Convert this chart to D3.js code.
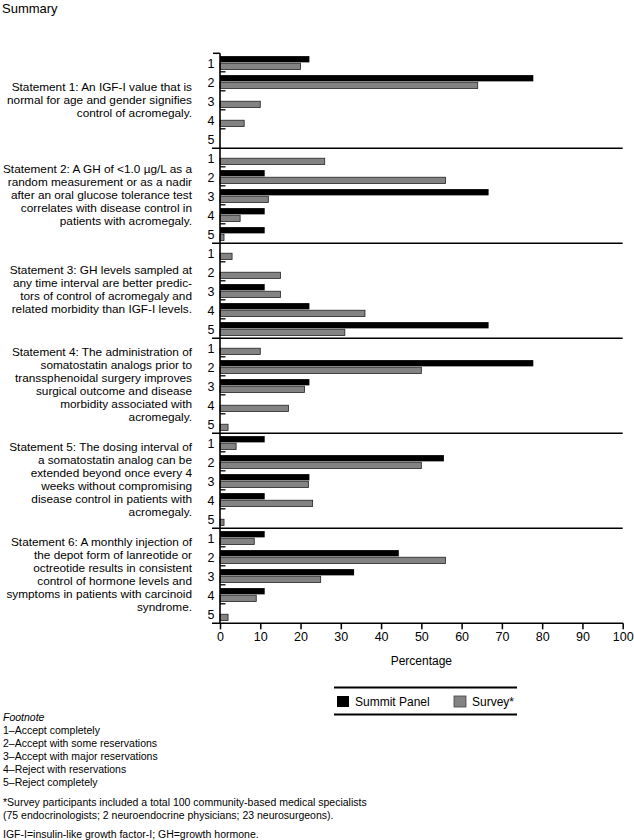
<!DOCTYPE html>
<html>
<head>
<meta charset="utf-8">
<script src="https://cdn.jsdelivr.net/npm/d3@7"></script>
<style>
  body { margin: 0; background: #fff; }
  text { font-family: "Liberation Sans", Arial, sans-serif; fill: #000; }
</style>
</head>
<body>
<div id="chart"></div>
<script>
// answer categories (1 = accept completely ... 5 = reject completely)
const categories = ['1', '2', '3', '4', '5'];

// percentages, one row per statement
const summitPanel = [
    [22.2, 77.8, 0, 0, 0],
    [0, 11.1, 66.7, 11.1, 11.1],
    [0, 0, 11.1, 22.2, 66.7],
    [0, 77.8, 22.2, 0, 0],
    [11.1, 55.6, 22.2, 11.1, 0],
    [11.1, 44.4, 33.3, 11.1, 0]
];

const survey = [
    [20, 64, 10, 6, 0],
    [26, 56, 12, 5, 1],
    [3, 15, 15, 36, 31],
    [10, 50, 21, 17, 2],
    [4, 50, 22, 23, 1],
    [8.5, 56, 25, 9, 2]
];

const statementLines = [
    ['Statement 1: An IGF-I value that is', 'normal for age and gender signifies', 'control of acromegaly.'],
    ['Statement 2: A GH of <1.0 \u00b5g/L as a', 'random measurement or as a nadir', 'after an oral glucose tolerance test', 'correlates with disease control in', 'patients with acromegaly.'],
    ['Statement 3: GH levels sampled at', 'any time interval are better predic-', 'tors of control of acromegaly and', 'related morbidity than IGF-I levels.'],
    ['Statement 4: The administration of', 'somatostatin analogs prior to', 'transsphenoidal surgery improves', 'surgical outcome and disease', 'morbidity associated with', 'acromegaly.'],
    ['Statement 5: The dosing interval of', 'a somatostatin analog can be', 'extended beyond once every 4', 'weeks without compromising', 'disease control in patients with', 'acromegaly.'],
    ['Statement 6: A monthly injection of', 'the depot form of lanreotide or', 'octreotide results in consistent', 'control of hormone levels and', 'symptoms in patients with carcinoid', 'syndrome.']
];

const xTicks = [0, 10, 20, 30, 40, 50, 60, 70, 80, 90, 100];

const seriesNames = ['Summit Panel', 'Survey*'];

const footnoteLines = [
    '1\u2013Accept completely',
    '2\u2013Accept with some reservations',
    '3\u2013Accept with major reservations',
    '4\u2013Reject with reservations',
    '5\u2013Reject completely'
];

const noteLines = [
    '*Survey participants included a total 100 community-based medical specialists',
    '(75 endocrinologists; 2 neuroendocrine physicians; 23 neurosurgeons).'
];

const abbrevLine = 'IGF-I=insulin-like growth factor-I; GH=growth hormone.';

const colors = { 'Summit Panel': '#000', 'Survey*': '#838383' };

const width = 634, height = 840;
const plotLeft = 220, plotRight = 622.7, plotTop = 53.3, plotBottom = 623.3;

const svg = d3.select('#chart').append('svg')
    .attr('width', width)
    .attr('height', height);

svg.append('text')
    .attr('x', 2).attr('y', 13)
    .style('font-size', '13px')
    .text('Summary');

const xScale = d3.scaleLinear().domain([0, 100]).range([plotLeft, plotRight]);

const panelScale = d3.scaleBand()
    .domain(d3.range(statementLines.length))
    .range([plotTop, plotBottom]);

const catScale = d3.scaleBand()
    .domain(categories)
    .range([0, panelScale.bandwidth()]);

const seriesScale = d3.scaleBand()
    .domain(seriesNames)
    .range([2.8, 16.2])
    .paddingInner(0.12);

// panels
const panels = svg.selectAll('.panel')
    .data(statementLines.map((lines, i) => ({ lines, i })))
    .enter().append('g')
        .attr('class', 'panel')
        .attr('transform', d => `translate(0,${panelScale(d.i)})`);

panels.each(function (d) {
    const g = d3.select(this);
    const lh = 13;
    const mid = panelScale.bandwidth() / 2 - 1.5;
    const start = mid - (d.lines.length - 1) * lh / 2;

    // statement text, right aligned
    g.selectAll('.stmt')
        .data(d.lines).enter()
        .append('text')
            .attr('class', 'stmt')
            .attr('x', 192)
            .attr('y', (l, j) => start + j * lh)
            .attr('dy', '0.36em')
            .attr('text-anchor', 'end')
            .style('font-size', '11.8px')
            .text(l => l);

    // category labels
    g.selectAll('.cat')
        .data(categories).enter()
        .append('text')
            .attr('class', 'cat')
            .attr('x', 214.5)
            .attr('y', c => catScale(c) + 10)
            .attr('dy', '0.36em')
            .attr('text-anchor', 'end')
            .style('font-size', '12.5px')
            .text(c => c);

    // small band ticks
    g.selectAll('.btick')
        .data(categories.slice(0, -1)).enter()
        .append('line')
            .attr('x1', plotLeft).attr('x2', plotLeft + 5.5)
            .attr('y1', c => catScale(c) + catScale.bandwidth() - 0.5)
            .attr('y2', c => catScale(c) + catScale.bandwidth() - 0.5)
            .attr('stroke', '#000')
            .attr('stroke-width', 1.3);

    const rows = [];
    categories.forEach((c, k) => {
        rows.push({ c, s: 'Summit Panel', v: summitPanel[d.i][k] });
        rows.push({ c, s: 'Survey*', v: survey[d.i][k] });
    });

    g.selectAll('.bar')
        .data(rows.filter(r => r.v > 0)).enter()
        .append('rect')
            .attr('class', 'bar')
            .attr('x', xScale(0))
            .attr('y', r => catScale(r.c) + seriesScale(r.s))
            .attr('width', r => xScale(r.v) - xScale(0))
            .attr('height', seriesScale.bandwidth())
            .attr('fill', r => colors[r.s])
            .attr('stroke', r => r.s === 'Survey*' ? '#222' : 'none')
            .attr('stroke-width', 0.8);
});

// separators between statements (and a short one at the top)
svg.selectAll('.sep')
    .data(d3.range(1, statementLines.length)).enter()
    .append('line')
        .attr('x1', 212).attr('x2', plotRight)
        .attr('y1', i => panelScale(i)).attr('y2', i => panelScale(i))
        .attr('stroke', '#000')
        .attr('stroke-width', 1.6);

svg.append('line')
    .attr('x1', 213).attr('x2', plotLeft)
    .attr('y1', plotTop).attr('y2', plotTop)
    .attr('stroke', '#000').attr('stroke-width', 1.5);

// y axis line
svg.append('line')
    .attr('x1', plotLeft).attr('x2', plotLeft)
    .attr('y1', plotTop).attr('y2', plotBottom)
    .attr('stroke', '#000').attr('stroke-width', 1.6);

// x axis
const xAxis = svg.append('g')
    .attr('class', 'x-axis')
    .attr('transform', `translate(0,${plotBottom})`)
    .call(d3.axisBottom(xScale).tickValues(xTicks).tickSize(6).tickSizeOuter(0));

xAxis.select('.domain').remove();
xAxis.selectAll('.tick line').attr('stroke', '#000').attr('stroke-width', 1.5);
xAxis.selectAll('.tick text')
    .attr('y', 9)
    .style('font-family', '"Liberation Sans", Arial, sans-serif')
    .style('font-size', '12.5px')
    .attr('fill', '#000');

svg.append('line')
    .attr('x1', 212).attr('x2', plotRight + 0.5)
    .attr('y1', plotBottom).attr('y2', plotBottom)
    .attr('stroke', '#000').attr('stroke-width', 1.6);

svg.append('text')
    .attr('x', xScale(50)).attr('y', 665)
    .attr('text-anchor', 'middle')
    .style('font-size', '12px')
    .text('Percentage');

// legend
const legend = svg.append('g').attr('class', 'legend');
legend.selectAll('.rule')
    .data([687.5, 714.5]).enter()
    .append('line')
        .attr('x1', 334).attr('x2', 517)
        .attr('y1', d => d).attr('y2', d => d)
        .attr('stroke', '#000').attr('stroke-width', 1.8);

const legendX = d3.scaleOrdinal().domain(seriesNames).range([337, 454]);

const items = legend.selectAll('.item')
    .data(seriesNames).enter()
    .append('g')
        .attr('transform', d => `translate(${legendX(d)},696)`);

items.append('rect')
    .attr('width', 12).attr('height', 11)
    .attr('fill', d => colors[d])
    .attr('stroke', d => d === 'Survey*' ? '#444' : 'none')
    .attr('stroke-width', 0.8);

items.append('text')
    .attr('x', 18).attr('y', 10)
    .style('font-size', '12px')
    .text(d => d);

// footnotes
const foot = svg.append('g').attr('class', 'footnote');

foot.append('text')
    .attr('x', 0).attr('y', 721)
    .style('font-size', '11px')
    .style('font-style', 'italic')
    .text('Footnote');

foot.selectAll('.fl')
    .data(footnoteLines).enter()
    .append('text')
        .attr('class', 'fl')
        .attr('x', 0)
        .attr('y', (d, i) => 734.5 + i * 13)
        .style('font-size', '11px')
        .text(d => d);

foot.selectAll('.nl')
    .data(noteLines).enter()
    .append('text')
        .attr('class', 'nl')
        .attr('x', 0)
        .attr('y', (d, i) => 806.5 + i * 13)
        .style('font-size', '11px')
        .text(d => d);

foot.append('text')
    .attr('class', 'nl')
    .attr('x', 0).attr('y', 838)
    .style('font-size', '11px')
    .text(abbrevLine);

// the footnote face is a condensed one; squeeze to match
const longest = d3.max(foot.selectAll('.nl').nodes(), n => n.getComputedTextLength());
const squeeze = 364 / longest;
foot.attr('transform', `translate(3,0) scale(${squeeze},1)`);
</script>
</body>
</html>
